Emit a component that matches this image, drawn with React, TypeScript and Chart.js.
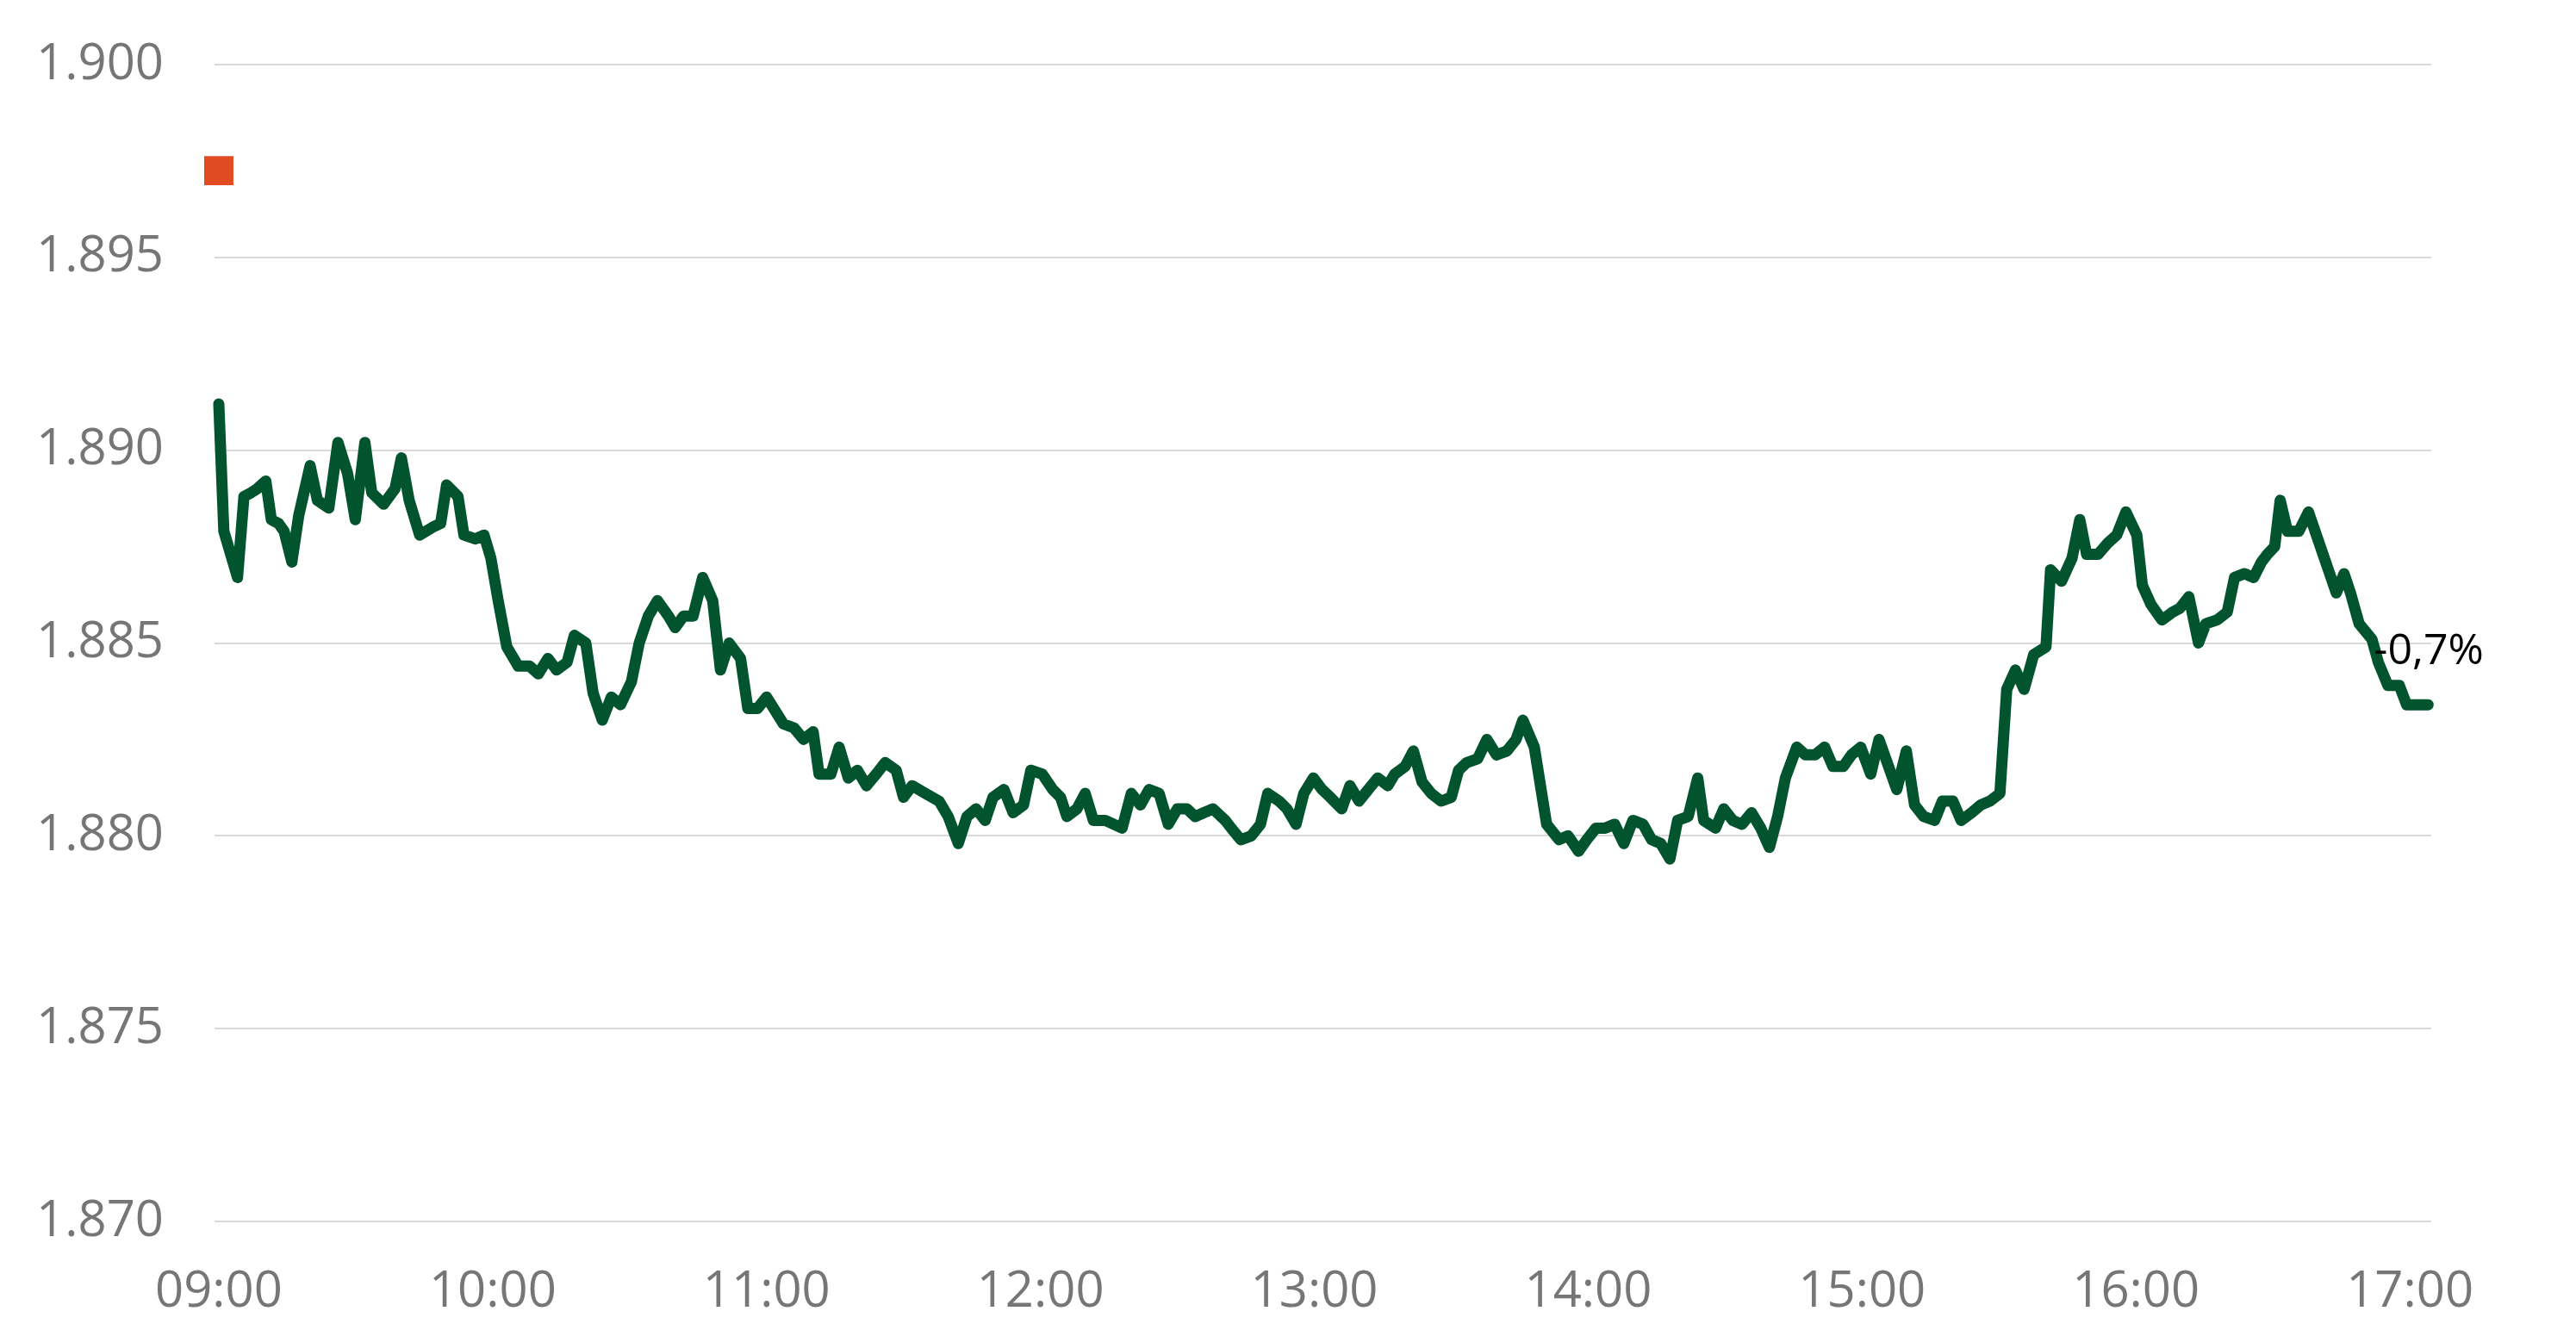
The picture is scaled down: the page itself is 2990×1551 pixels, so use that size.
import React, { useEffect, useRef } from 'react';
import { Chart, registerables } from 'chart.js';

Chart.register(...registerables);

// Minutes after 09:00 for each observation
const minutesAfterOpen = [
  0, 1.1, 4.1, 5.5, 7.1, 8.4, 10.3, 11.5, 13.1, 14.3,
  16.0, 17.5, 20.0, 21.6, 24.1, 26.1, 28.2, 29.9, 32.0, 33.5,
  36.1, 38.6, 40.0, 41.7, 44.0, 46.8, 48.6, 49.9, 52.4, 53.7,
  56.2, 58.1, 59.6, 61.2, 63.1, 65.6, 68.1, 70.0, 72.1, 74.0,
  76.3, 77.9, 80.4, 82.0, 84.0, 86.0, 88.0, 90.4, 92.1, 94.1,
  96.1, 98.5, 100.0, 101.8, 103.9, 106.0, 108.2, 109.9, 111.8, 114.3,
  115.9, 118.0, 120.0, 123.7, 126.0, 128.1, 130.2, 131.5, 134.1, 135.9,
  137.9, 139.9, 141.9, 144.0, 146.0, 148.4, 150.0, 151.9, 154.8, 157.8,
  159.8, 162.0, 163.9, 165.9, 167.9, 169.6, 172.0, 174.0, 176.3, 177.9,
  180.4, 182.7, 184.4, 185.8, 188.0, 189.8, 191.6, 194.2, 197.9, 199.9,
  201.9, 203.8, 206.0, 208.0, 210.0, 212.1, 213.9, 215.8, 217.8, 220.5,
  221.8, 223.9, 226.2, 228.2, 229.8, 232.3, 234.0, 236.0, 237.7, 239.8,
  241.7, 243.5, 246.0, 247.8, 249.8, 251.8, 253.9, 256.1, 257.6, 259.9,
  261.7, 263.6, 265.6, 267.8, 270.0, 271.6, 273.4, 275.8, 277.8, 279.9,
  282.2, 284.2, 285.7, 288.2, 290.9, 293.6, 295.6, 297.9, 299.7, 301.7,
  303.7, 305.8, 307.8, 309.8, 312.0, 313.9, 315.9, 317.9, 319.6, 321.9,
  324.0, 325.3, 327.9, 329.7, 331.7, 333.7, 335.8, 337.8, 339.7, 341.5,
  343.2, 345.7, 347.6, 349.7, 351.8, 353.6, 355.9, 357.7, 359.7, 361.9,
  363.7, 365.8, 367.6, 369.7, 371.5, 373.5, 375.9, 377.6, 379.9, 381.7,
  384.0, 386.0, 388.0, 390.2, 391.7, 393.6, 395.5, 397.6, 400.3, 401.3,
  403.7, 406.0, 407.7, 409.2, 411.7, 413.9, 415.8, 417.8, 420.2, 421.4,
  423.3, 425.7, 428.0, 429.6, 431.6, 433.7, 435.3, 437.8, 440.0, 441.6,
  443.8, 445.8, 447.5, 448.8, 450.4, 451.6, 453.2, 455.7, 457.8, 460.7,
  463.9, 465.6, 467.0, 468.9, 471.7, 473.1, 475.2, 477.7, 479.3, 481.8,
  484.0,
];

// Index level
const prices = [
  1891.2, 1887.9, 1886.7, 1888.8, 1888.9, 1889.0, 1889.2, 1888.2, 1888.1, 1887.9,
  1887.1, 1888.3, 1889.6, 1888.7, 1888.5, 1890.2, 1889.4, 1888.2, 1890.2, 1888.9,
  1888.6, 1889.0, 1889.8, 1888.7, 1887.8, 1888.0, 1888.1, 1889.1, 1888.8, 1887.8,
  1887.7, 1887.8, 1887.2, 1886.1, 1884.9, 1884.4, 1884.4, 1884.2, 1884.6, 1884.3,
  1884.5, 1885.2, 1885.0, 1883.7, 1883.0, 1883.6, 1883.4, 1884.0, 1885.0, 1885.7,
  1886.1, 1885.7, 1885.4, 1885.7, 1885.7, 1886.7, 1886.1, 1884.3, 1885.0, 1884.6,
  1883.3, 1883.3, 1883.6, 1882.9, 1882.8, 1882.5, 1882.7, 1881.6, 1881.6, 1882.3,
  1881.5, 1881.7, 1881.3, 1881.6, 1881.9, 1881.7, 1881.0, 1881.3, 1881.1, 1880.9,
  1880.5, 1879.8, 1880.5, 1880.7, 1880.4, 1881.0, 1881.2, 1880.6, 1880.8, 1881.7,
  1881.6, 1881.2, 1881.0, 1880.5, 1880.7, 1881.1, 1880.4, 1880.4, 1880.2, 1881.1,
  1880.8, 1881.2, 1881.1, 1880.3, 1880.7, 1880.7, 1880.5, 1880.6, 1880.7, 1880.4,
  1880.2, 1879.9, 1880.0, 1880.3, 1881.1, 1880.9, 1880.7, 1880.3, 1881.1, 1881.5,
  1881.2, 1881.0, 1880.7, 1881.3, 1880.9, 1881.2, 1881.5, 1881.3, 1881.6, 1881.8,
  1882.2, 1881.4, 1881.1, 1880.9, 1881.0, 1881.7, 1881.9, 1882.0, 1882.5, 1882.1,
  1882.2, 1882.5, 1883.0, 1882.3, 1880.3, 1879.9, 1880.0, 1879.6, 1879.9, 1880.2,
  1880.2, 1880.3, 1879.8, 1880.4, 1880.3, 1879.9, 1879.8, 1879.4, 1880.4, 1880.5,
  1881.5, 1880.4, 1880.2, 1880.7, 1880.4, 1880.3, 1880.6, 1880.2, 1879.7, 1880.5,
  1881.5, 1882.3, 1882.1, 1882.1, 1882.3, 1881.8, 1881.8, 1882.1, 1882.3, 1881.6,
  1882.5, 1881.8, 1881.2, 1882.2, 1880.8, 1880.5, 1880.4, 1880.9, 1880.9, 1880.4,
  1880.6, 1880.8, 1880.9, 1881.1, 1883.8, 1884.3, 1883.8, 1884.7, 1884.9, 1886.9,
  1886.6, 1887.2, 1888.2, 1887.3, 1887.3, 1887.6, 1887.8, 1888.4, 1887.8, 1886.5,
  1886.0, 1885.6, 1885.8, 1885.9, 1886.2, 1885.0, 1885.5, 1885.6, 1885.8, 1886.7,
  1886.8, 1886.7, 1887.1, 1887.3, 1887.5, 1888.7, 1887.9, 1887.9, 1888.4, 1887.4,
  1886.3, 1886.8, 1886.3, 1885.5, 1885.1, 1884.5, 1883.9, 1883.9, 1883.4, 1883.4,
  1883.4,
];

// Reference marker (orange square)
const markerMinutes = [0];
const markerValues = [1897.25];

// Axis ticks
const xTickMinutes = [0, 60, 120, 180, 240, 300, 360, 420, 480];
const xTickLabels = ['09:00', '10:00', '11:00', '12:00', '13:00', '14:00', '15:00', '16:00', '17:00'];
const yTickValues = [1870, 1875, 1880, 1885, 1890, 1895, 1900];

const changeLabel = '-0,7%';

const formatLevel = (v: number) => {
  const n = Math.round(v);
  return Math.floor(n / 1000) + '.' + String(n % 1000).padStart(3, '0');
};

const endLabelPlugin = {
  id: 'endLabel',
  afterDatasetsDraw(chart: any) {
    const meta = chart.getDatasetMeta(0);
    const pt = meta.data[meta.data.length - 1];
    if (!pt) return;
    const ctx = chart.ctx;
    ctx.save();
    ctx.font = '50px "Open Sans"';
    ctx.fillStyle = '#000000';
    ctx.textAlign = 'left';
    ctx.textBaseline = 'middle';
    ctx.fillText(changeLabel, pt.x - 63, pt.y - 61);
    ctx.restore();
  },
};

export default function App() {
  const canvasRef = useRef<HTMLCanvasElement | null>(null);

  useEffect(() => {
    if (!canvasRef.current) return;
    const tickFont = { family: '"Open Sans"', size: 58 };
    const chart = new Chart(canvasRef.current, {
      type: 'line',
      data: {
        datasets: [
          {
            label: 'Index',
            data: minutesAfterOpen.map((m, i) => ({ x: m, y: prices[i] })),
            borderColor: '#02542F',
            borderWidth: 13,
            pointRadius: 0,
            tension: 0,
            borderCapStyle: 'round',
            borderJoinStyle: 'round',
            fill: false,
            clip: false,
          } as any,
          {
            type: 'scatter',
            label: 'Marker',
            data: markerMinutes.map((m, i) => ({ x: m, y: markerValues[i] })),
            pointStyle: 'rect',
            pointRadius: 24,
            backgroundColor: '#E04B22',
            borderWidth: 0,
            clip: false,
          } as any,
        ],
      },
      options: {
        animation: false,
        responsive: false,
        devicePixelRatio: 1,
        layout: { padding: { top: 75, right: 168, bottom: 0, left: 0 } },
        plugins: { legend: { display: false }, tooltip: { enabled: false } },
        scales: {
          x: {
            type: 'linear',
            min: -0.94,
            max: 484.7,
            afterBuildTicks: (s: any) => {
              s.ticks = xTickMinutes.map((v) => ({ value: v }));
            },
            afterFit: (s: any) => {
              s.height = 133;
            },
            grid: { display: false, drawTicks: false },
            border: { display: false },
            ticks: {
              autoSkip: false,
              maxRotation: 0,
              padding: 48,
              color: '#767676',
              font: tickFont,
              callback: (_v: any, i: number) => xTickLabels[i],
            },
          },
          y: {
            type: 'linear',
            min: 1870,
            max: 1900,
            afterBuildTicks: (s: any) => {
              s.ticks = yTickValues.map((v) => ({ value: v }));
            },
            afterFit: (s: any) => {
              s.width = 249;
              s.paddingTop = 0;
              s.paddingBottom = 0;
            },
            grid: { color: '#d9d9d9', lineWidth: 2, drawTicks: false },
            border: { display: false },
            ticks: {
              padding: 59,
              color: '#767676',
              font: tickFont,
              callback: (v: any) => formatLevel(Number(v)),
            },
          },
        },
      } as any,
      plugins: [endLabelPlugin],
    });
    return () => chart.destroy();
  }, []);

  return (
    <div style={{ position: 'absolute', left: 0, top: 0, width: 2990, height: 1551, background: '#ffffff' }}>
      <canvas ref={canvasRef} width={2990} height={1551} style={{ display: 'block', width: 2990, height: 1551 }} />
    </div>
  );
}
